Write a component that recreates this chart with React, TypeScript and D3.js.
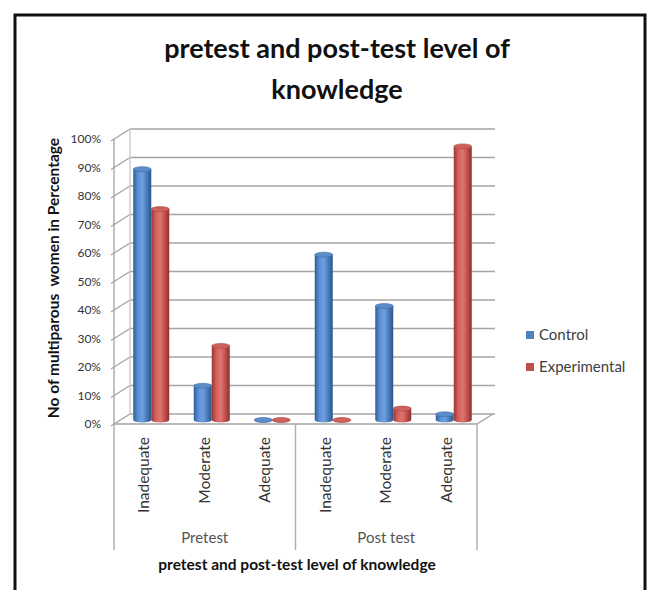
import { useEffect, useRef } from "react";
import * as d3 from "d3";

// data
const categories = ["Inadequate", "Moderate", "Adequate", "Inadequate", "Moderate", "Adequate"];
const groups = ["Pretest", "Post test"];
const controlValues = [88, 12, 0, 58, 40, 2];
const experimentalValues = [74, 26, 0, 0, 4, 96];
const yTicks = [0, 10, 20, 30, 40, 50, 60, 70, 80, 90, 100];
const seriesNames = ["Control", "Experimental"];

export default function App() {
    const ref = useRef<SVGSVGElement>(null);

    useEffect(() => {
        const svg = d3.select(ref.current);
        svg.selectAll("*").remove();

        const font = "Lato, 'Open Sans', sans-serif";
        const dx = 16, dy = -10; // depth offset of the 3d box
        const left = 114, right = 477;
        const floorY = 424;

        let x = d3.scaleBand<number>()
            .domain(d3.range(categories.length))
            .range([left, right]);

        // y on the back wall
        let y = d3.scaleLinear().domain([0, 100]).range([floorY + dy, 129]);

        // outer frame
        svg.append("rect")
            .attr("x", 15).attr("y", 15)
            .attr("width", 630).attr("height", 600)
            .attr("fill", "white")
            .attr("stroke", "#111").attr("stroke-width", 3);

        // title
        const title = svg.append("text")
            .attr("text-anchor", "middle")
            .attr("font-family", font)
            .attr("font-weight", "bold")
            .attr("font-size", 27)
            .attr("fill", "#111");
        title.append("tspan").attr("x", 337).attr("y", 58).text("pretest and post-test level of");
        title.append("tspan").attr("x", 337).attr("y", 99).text("knowledge");

        const grid = svg.append("g");
        const gridColor = "#a4a4a4";

        // back wall gridlines + left wall diagonals
        yTicks.forEach((t) => {
            grid.append("line")
                .attr("x1", left + dx).attr("x2", right + dx + 2)
                .attr("y1", y(t)).attr("y2", y(t))
                .attr("stroke", gridColor).attr("stroke-width", 1.7);
            grid.append("line")
                .attr("x1", left - 3).attr("y1", y(t) - dy + 2)
                .attr("x2", left + dx).attr("y2", y(t))
                .attr("stroke", gridColor).attr("stroke-width", 1.3);
        });
        // left wall verticals
        grid.append("line")
            .attr("x1", left).attr("x2", left)
            .attr("y1", floorY).attr("y2", y(100) - dy)
            .attr("stroke", gridColor).attr("stroke-width", 1.3);
        grid.append("line")
            .attr("x1", left + dx).attr("x2", left + dx)
            .attr("y1", y(0)).attr("y2", y(100))
            .attr("stroke", "#c8c8c8").attr("stroke-width", 1.3);
        // floor
        grid.append("path")
            .attr("d", `M${left},${floorY}L${right},${floorY}L${right + dx},${floorY + dy}`)
            .attr("fill", "none")
            .attr("stroke", gridColor).attr("stroke-width", 1.3);

        // y tick labels
        svg.append("g")
            .selectAll("text")
            .data(yTicks)
            .enter().append("text")
            .attr("x", 101)
            .attr("y", (d) => y(d) - dy + 4)
            .attr("text-anchor", "end")
            .attr("font-family", font)
            .attr("font-size", 12)
            .attr("fill", "#333")
            .text((d) => d + "%");

        // gradients for cylinders
        const defs = svg.append("defs");
        const colors = [
            { id: "cyl-blue", stops: ["#2f5d96", "#5a8fd4", "#6f9fe0", "#4a7cbc", "#2c5588"], top: "#5d8cc9" },
            { id: "cyl-red", stops: ["#9a3532", "#d4605c", "#e07470", "#c0504d", "#8a2f2c"], top: "#cf615d" }
        ];
        colors.forEach((c) => {
            defs.append("linearGradient")
                .attr("id", c.id)
                .attr("x1", "0%").attr("x2", "100%").attr("y1", "0%").attr("y2", "0%")
                .selectAll("stop")
                .data(c.stops)
                .enter().append("stop")
                .attr("offset", (d, i) => (i / (c.stops.length - 1)) * 100 + "%")
                .attr("stop-color", (d) => d);
        });

        // bars (cylinders), placed at mid depth
        const barW = 18;
        const base = 420;
        const k = (y(0) - y(100)) / 100;
        const ry = 2.5;
        const bars = svg.append("g");
        [controlValues, experimentalValues].forEach((vals, s) => {
            vals.forEach((v, i) => {
                const cx = x(i)! + x.bandwidth() / 2 + dx / 2 - 1;
                const x0 = s === 0 ? cx - barW : cx;
                const top = base - v * k;
                const g = bars.append("g");
                g.append("path")
                    .attr("d", `M${x0},${top}L${x0},${base}A${barW / 2},${ry} 0 0 0 ${x0 + barW},${base}L${x0 + barW},${top}Z`)
                    .attr("fill", `url(#${colors[s].id})`);
                g.append("ellipse")
                    .attr("cx", x0 + barW / 2).attr("cy", top)
                    .attr("rx", barW / 2).attr("ry", ry)
                    .attr("fill", colors[s].top)
                    .attr("stroke", s === 0 ? "#3a6aa8" : "#a84440")
                    .attr("stroke-width", 0.6);
            });
        });

        // category axis below
        const catAxis = svg.append("g");
        [0, 3, 6].forEach((i) => {
            const xx = i === 6 ? right : x(i)!;
            catAxis.append("line")
                .attr("x1", xx).attr("x2", xx)
                .attr("y1", floorY).attr("y2", 550)
                .attr("stroke", "#b0b0b0").attr("stroke-width", 1.5);
        });
        categories.forEach((c, i) => {
            const cx = x(i)! + x.bandwidth() / 2;
            catAxis.append("text")
                .attr("transform", `translate(${cx + 5},437) rotate(-90)`)
                .attr("text-anchor", "end")
                .attr("font-family", font)
                .attr("font-size", 15.5)
                .attr("fill", "#333")
                .text(c);
        });
        groups.forEach((g, j) => {
            const x0 = x(j * 3)!;
            const x1 = j === 1 ? right : x(3)!;
            catAxis.append("text")
                .attr("x", (x0 + x1) / 2)
                .attr("y", 543)
                .attr("text-anchor", "middle")
                .attr("font-family", font)
                .attr("font-size", 15)
                .attr("fill", "#555")
                .text(g);
        });

        // axis titles
        svg.append("text")
            .attr("x", 297).attr("y", 570)
            .attr("text-anchor", "middle")
            .attr("font-family", font)
            .attr("font-weight", "bold")
            .attr("font-size", 15.5)
            .attr("fill", "#111")
            .text("pretest and post-test level of knowledge");
        svg.append("text")
            .attr("transform", "translate(59,278) rotate(-90)")
            .attr("text-anchor", "middle")
            .attr("font-family", font)
            .attr("font-weight", "bold")
            .attr("font-size", 15.5)
            .attr("fill", "#111")
            .attr("xml:space", "preserve")
            .text("No of multiparous  women in Percentage");

        // legend
        const legend = svg.append("g");
        seriesNames.forEach((n, i) => {
            legend.append("rect")
                .attr("x", 526).attr("y", 331 + i * 32)
                .attr("width", 8).attr("height", 8)
                .attr("fill", i === 0 ? "#4f81bd" : "#c0504d");
            legend.append("text")
                .attr("x", 539).attr("y", 340 + i * 32)
                .attr("font-family", font)
                .attr("font-size", 15)
                .attr("fill", "#404040")
                .text(n);
        });
    }, []);

    return (
        <svg ref={ref} width={650} height={590}
            style={{ position: "absolute", left: 0, top: 0, background: "white" }}></svg>
    );
}
